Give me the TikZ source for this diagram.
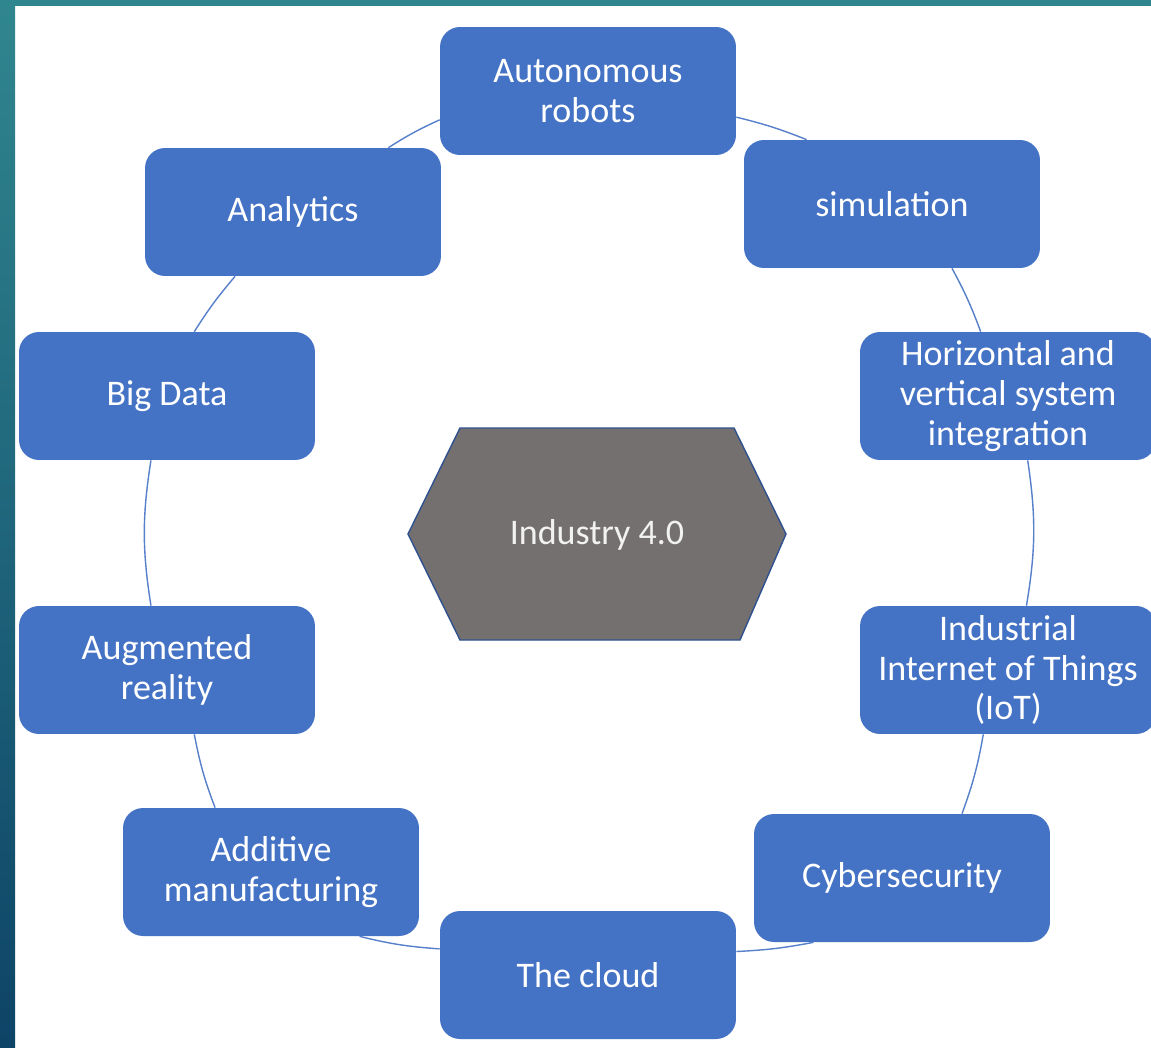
\documentclass[tikz,border=0pt]{standalone}
\usepackage{fontspec}
\setmainfont{Carlito}
\usepackage{tikz}
\usetikzlibrary{shapes.geometric,arrows}
\definecolor{officeblue}{HTML}{4472C4}
\definecolor{coregray}{HTML}{757070}
\definecolor{coreline}{HTML}{2F528F}
\definecolor{tealtop}{HTML}{30868F}
\definecolor{tealbottom}{HTML}{0E4467}
\tikzstyle{topic}=[rectangle,rounded corners=0.4cm,minimum width=5.92cm,
minimum height=2.56cm,text centered,align=center,fill=officeblue,text=white,
font=\fontsize{20.5}{22.7}\selectfont]
\tikzstyle{core}=[text=white!95!black,font=\fontsize{20.5}{22.7}\selectfont]
\tikzstyle{link}=[draw=officeblue!90!white,line width=0.8pt]

\begin{document}
\begin{tikzpicture}[x=0.02cm,y=-0.02cm]
    \useasboundingbox (0,0) rectangle (1151,1047);
    \fill[white] (0,0) rectangle (1151,1047);
    \shade[top color=tealtop,bottom color=tealbottom] (0,0) rectangle (15,1047);
    \fill[tealtop] (0,0) rectangle (1151,6);

    % the centre hexagon
    \draw[fill=coregray,draw=coreline,line width=0.8pt] (408,534) -- (460,428) -- (734,428)
        -- (786,534) -- (740,640) -- (460,640) -- cycle;
    \node (core) [core] at (597,535) {Industry 4.0};

    \node (auto) [topic] at (588,91) {Autonomous\\robots};
    \node (sim) [topic] at (892,204) {simulation};
    \node (horiz) [topic] at (1008,396) {Horizontal and\\vertical system\\integration};
    \node (iot) [topic] at (1008,670) {Industrial\\Internet of Things\\(IoT)};
    \node (cyber) [topic] at (902,878) {Cybersecurity};
    \node (cloud) [topic] at (588,975) {The cloud};
    \node (additive) [topic] at (271,872) {Additive\\manufacturing};
    \node (augmented) [topic] at (167,670) {Augmented\\reality};
    \node (bigdata) [topic] at (167,396) {Big Data};
    \node (analytics) [topic] at (293,212) {Analytics};

    % ring segments
    \draw [link] (auto.-10.2) to[bend left=4] (sim.143.9);
    \draw [link] (sim.-47.8) to[bend left=4] (horiz.113);
    \draw [link] (horiz.-73.9) to[bend left=9] (iot.74.2);
    \draw [link] (iot.-111.9) to[bend left=5] (cyber.47.3);
    \draw [link] (cyber.-144.9) to[bend left=4] (cloud.9.8);
    \draw [link] (cloud.170.6) to[bend left=5] (additive.-36.4);
    \draw [link] (additive.131.2) to[bend left=5] (augmented.-67.3);
    \draw [link] (augmented.104.2) to[bend left=9] (bigdata.-104.2);
    \draw [link] (bigdata.67.8) to[bend left=4] (analytics.-132.3);
    \draw [link] (analytics.34.2) to[bend left=4] (auto.-169.9);

\end{tikzpicture}
\end{document}
